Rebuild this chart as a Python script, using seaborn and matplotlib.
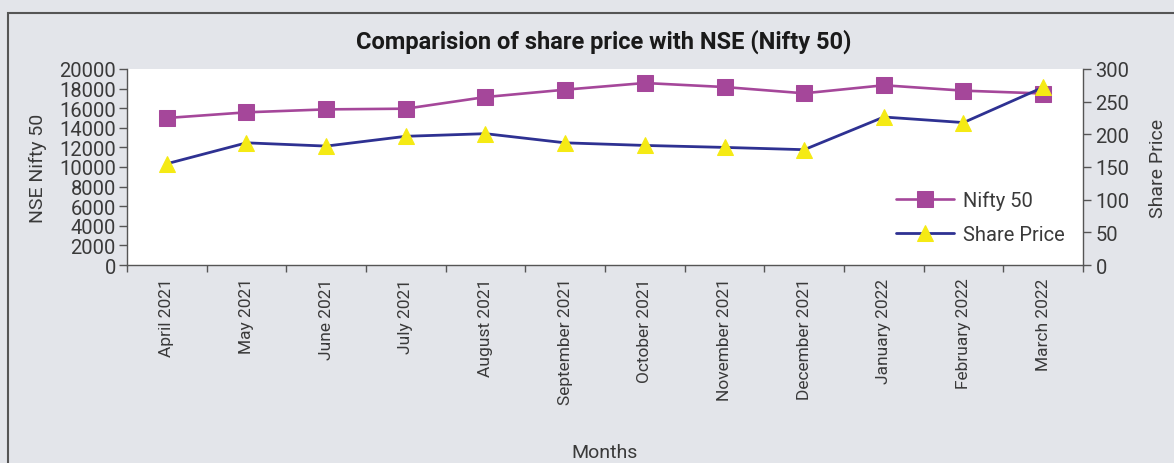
import numpy as np
import pandas as pd
import matplotlib
matplotlib.use("Agg")
import matplotlib.pyplot as plt
from matplotlib.patches import Rectangle
from matplotlib.ticker import FixedLocator
import seaborn as sns

# -----------------------------------------------------------------------
# DATA
# -----------------------------------------------------------------------
months = ["April 2021", "May 2021", "June 2021", "July 2021", "August 2021",
          "September 2021", "October 2021", "November 2021", "December 2021",
          "January 2022", "February 2022", "March 2022"]
nifty_50 = [15000, 15580, 15880, 15950, 17140, 17890, 18570, 18160, 17520,
            18340, 17790, 17500]
share_price = [155, 187, 182, 197, 201, 187, 183, 180, 176.5, 226.5, 218, 272]

df = pd.DataFrame({"Month": months, "Nifty 50": nifty_50, "Share Price": share_price})

# -----------------------------------------------------------------------
# STYLE
# -----------------------------------------------------------------------
sns.set_style("ticks")
plt.rcParams["font.family"] = ["Roboto", "DejaVu Sans"]
BG = "#e3e5ea"
TXT = "#3a3a3a"
SPINE = "#555555"
PURPLE = "#a5479a"
NAVY = "#2e3192"
YELLOW = "#f5ea14"
WEIGHT = "normal"

fig = plt.figure(figsize=(11.74, 4.64), dpi=100, facecolor=BG)
ax = fig.add_axes([127 / 1174, 1 - 266 / 464, (1083 - 127) / 1174, 196 / 464])
ax.set_facecolor("white")
ax2 = ax.twinx()
ax2.patch.set_visible(False)

# outer frame of the figure box (cut off right/bottom)
fig.patches.append(Rectangle((8 / 1174, -0.1), 2, 0.1 + 1 - 14 / 464,
                             transform=fig.transFigure, fill=False,
                             edgecolor=SPINE, linewidth=1.5))

x = np.arange(len(months))
sns.lineplot(x=x, y=df["Nifty 50"], ax=ax, color=PURPLE, linewidth=1.9,
             marker="s", markersize=11, markerfacecolor=PURPLE,
             markeredgecolor=PURPLE, label="Nifty 50", legend=False)
sns.lineplot(x=x, y=df["Share Price"], ax=ax2, color=NAVY, linewidth=2.0,
             marker="^", markersize=12, markerfacecolor=YELLOW,
             markeredgecolor=YELLOW, label="Share Price", legend=False)

ax.set_xlim(-0.5, len(months) - 0.5)
ax.set_ylim(0, 20000)
ax2.set_ylim(0, 300)
ax.set_yticks(np.arange(0, 20001, 2000))
ax2.set_yticks(np.arange(0, 301, 50))

ax.set_xticks(x)
ax.set_xticklabels(months, rotation=90)
ax.xaxis.set_minor_locator(FixedLocator(np.arange(-0.5, len(months), 1)))
ax.tick_params(axis="x", which="major", length=0, pad=9)
ax.tick_params(axis="x", which="minor", length=5, width=1, color=SPINE)
ax.tick_params(axis="y", length=6, width=1, color=SPINE, pad=2)
ax2.tick_params(axis="y", length=6, width=1, color=SPINE, pad=3)

for a in (ax, ax2):
    for lbl in a.get_xticklabels():
        lbl.set_fontsize(12.5)
        lbl.set_color(TXT)
        lbl.set_fontweight(WEIGHT)
    for lbl in a.get_yticklabels():
        lbl.set_fontsize(14.5)
        lbl.set_color(TXT)
        lbl.set_fontweight(WEIGHT)
    for s in a.spines.values():
        s.set_color(SPINE)
        s.set_linewidth(1)
    a.spines["top"].set_visible(False)
ax.spines["right"].set_visible(False)
ax2.spines["left"].set_visible(False)
ax2.spines["bottom"].set_visible(False)

ax.set_xlabel("Months", fontsize=14, color=TXT, fontweight=WEIGHT, labelpad=28)
ax.set_ylabel("NSE Nifty 50", fontsize=14, color=TXT, fontweight=WEIGHT, labelpad=9)
ax2.set_ylabel("Share Price", fontsize=14, color=TXT, fontweight=WEIGHT, labelpad=14)

fig.text(604 / 1174, 1 - 42 / 464, "Comparision of share price with NSE (Nifty 50)",
         ha="center", va="center", fontsize=17, fontweight="bold", color="#1a1a1a")

handles = ax.get_lines()[:1] + ax2.get_lines()[:1]
leg = ax2.legend(handles, ["Nifty 50", "Share Price"], loc="lower right",
                 bbox_to_anchor=(1.0, 0.015), frameon=False, fontsize=14.5,
                 handlelength=2.9, numpoints=1, labelspacing=0.75,
                 handletextpad=0.45)
for t in leg.get_texts():
    t.set_color(TXT)
    t.set_fontweight(WEIGHT)

fig.savefig("out.png", dpi=100, facecolor=BG)
